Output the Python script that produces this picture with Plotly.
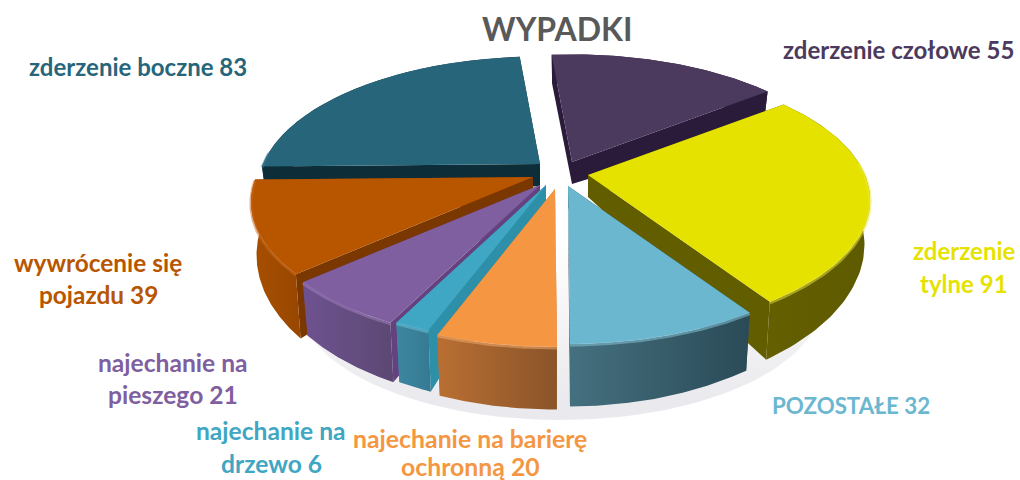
import numpy as np
import plotly.graph_objects as go

# ---- data
categories = ["zderzenie czołowe", "zderzenie tylne", "POZOSTAŁE", "najechanie na barierę ochronną",
              "najechanie na drzewo", "najechanie na pieszego", "wywrócenie się pojazdu", "zderzenie boczne"]
values = [55, 91, 32, 20, 6, 21, 39, 83]

# ---- styles, per slice in the order of the values
top_colors = ["#4B3A5E", "#E6E200", "#6BB7D0", "#F59642", "#3FA6C3", "#7F5F9F", "#B85600", "#27667A"]
side_colors = [("#2A1B3A", "#2A1B3A"), ("#645F00", "#5E5A00"), ("#45707F", "#2A4A57"), ("#B96F33", "#8A5429"),
               ("#3D86A0", "#357A92"), ("#6E5290", "#5C4873"), ("#A84F00", "#984700"), ("#0D2E39", "#0D2E39")]
cut_colors = ["#2A1B3A", "#625E00", "#2A4A57", "#B96F33", "#2E8FA8", "#66417F", "#7A3700", "#0D2E39"]
bevel_colors = ["#5A4970", "#EDEA40", "#8CCBDD", "#F9B070", "#6FC3DB", "#A284BF", "#C8681C", "#37788D"]
apex = [(572, 162), (588, 175), (568, 186), (555, 189), (546, 185), (540, 185), (533, 177), (540, 164)]
depth_scale = [1.0, 1.0, 1.0, 1.0, 1.0, 1.0, 1.2, 1.0]
draw_order = [7, 6, 5, 4, 3, 0, 1, 2]

ROT, A, B, K = -5.0, 277.0, 128.0, 0.19
DEPTH, APEX_DEPTH, WALL_IN = 41.0, 22.0, 0.98


def persp(theta):
    t = np.radians(theta)
    u, v = np.sin(t), np.cos(t)
    f = 1.0 / (1.0 + K * v)
    return A * u * f, -B * v * f, DEPTH * f * f


fig = go.Figure()


def poly(xs, ys, color=None, grad=None):
    kw = dict(x=list(xs), y=list(ys), mode="lines", fill="toself", line=dict(width=0),
              hoverinfo="skip", showlegend=False)
    if grad is not None:
        kw["fillgradient"] = grad
    else:
        kw["fillcolor"] = color
    fig.add_trace(go.Scatter(**kw))


# soft floor shadow
tt = np.radians(np.linspace(0, 360, 180))
poly(560 + 262 * np.sin(tt), 300 + 120 * np.cos(tt),
     grad=dict(type="vertical", start=240, stop=400,
               colorscale=[[0, "rgba(234,234,238,0)"], [1, "rgba(234,234,238,1)"]]))

ends = np.cumsum(values) / np.sum(values) * 360.0
starts = np.concatenate([[0.0], ends[:-1]])

for i in draw_order:
    a0, a1 = starts[i] + ROT, ends[i] + ROT
    th = np.linspace(a0, a1, 80)
    dx, dy, d = persp(th)
    d = d * depth_scale[i]
    ax, ay = apex[i]
    x, y = ax + dx, ay + dy
    xb, yb = ax + dx * WALL_IN, y + d
    # radial cut faces
    poly([ax, x[0], xb[0], ax], [ay, y[0], yb[0], ay + APEX_DEPTH], cut_colors[i])
    poly([ax, x[-1], xb[-1], ax], [ay, y[-1], yb[-1], ay + APEX_DEPTH], cut_colors[i])
    # outer wall, lighter at its left end
    c0, c1 = side_colors[i]
    xw = np.concatenate([x, xb[::-1]])
    yw = np.concatenate([y, yb[::-1]])
    poly(xw, yw, grad=dict(type="horizontal", colorscale=[[0, c0], [1, c1]]))
    # top surface
    poly(np.concatenate([[ax], x, [ax]]), np.concatenate([[ay], y, [ay]]), top_colors[i])
    # rim highlight on the arcs that face the viewer
    front = np.cos(np.radians(th)) < 0.1
    if front.any():
        fig.add_trace(go.Scatter(x=x[front], y=y[front] + 1.0, mode="lines",
                                 line=dict(width=3, color=bevel_colors[i]),
                                 opacity=0.5, hoverinfo="skip", showlegend=False))

# ---- text
title = "WYPADKI"
labels = [
    (["zderzenie czołowe 55"], [49], 898, 0, 24),
    (["zderzenie", "tylne 91"], [250, 283], 964, 1, 24),
    (["POZOSTAŁE 32"], [405], 851, 2, 22.3),
    (["najechanie na barierę", "ochronną 20"], [438, 466], 470, 3, 24.8),
    (["najechanie na", "drzewo 6"], [430, 463], 271, 4, 24.6),
    (["najechanie na", "pieszego 21"], [362, 394], 173, 5, 24.6),
    (["wywrócenie się", "pojazdu 39"], [262, 294], 98, 6, 24.4),
    (["zderzenie boczne 83"], [66], 138, 7, 24),
]
for lines, ys, xc, ci, size in labels:
    for line, yc in zip(lines, ys):
        fig.add_annotation(x=xc, y=yc, text=line, showarrow=False, xanchor="center", yanchor="middle",
                           font=dict(family="Lato", size=size, color=top_colors[ci], weight="bold"))
fig.add_annotation(x=557, y=28, text=title, showarrow=False, xanchor="center", yanchor="middle",
                   font=dict(family="Lato", size=32, color="#595959", weight="bold"))

fig.update_layout(
    width=1020, height=480, margin=dict(l=0, r=0, t=0, b=0),
    paper_bgcolor="white", plot_bgcolor="white", showlegend=False,
    xaxis=dict(range=[0, 1020], visible=False, fixedrange=True),
    yaxis=dict(range=[480, 0], visible=False, fixedrange=True),
)
fig.write_html("out.html", post_script="document.body.style.margin='0';document.body.style.overflow='hidden';",
               config=dict(displayModeBar=False))
